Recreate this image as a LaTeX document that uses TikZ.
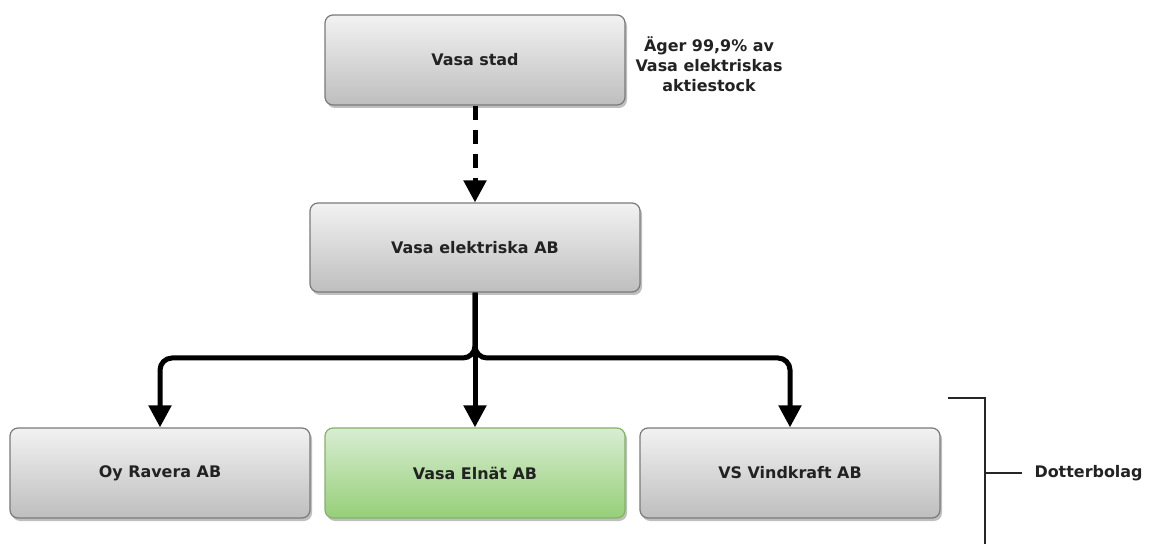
\documentclass[tikz,border=0pt]{standalone}
\usepackage{fontspec}
\setmainfont{DejaVu Sans}
\usetikzlibrary{arrows.meta,shadows,positioning}
\definecolor{txt}{HTML}{222222}
\definecolor{gtop}{HTML}{F2F2F2}
\definecolor{gbot}{HTML}{BEBEBE}
\definecolor{gline}{HTML}{7A7A7A}
\definecolor{ntop}{HTML}{D8EDD2}
\definecolor{nbot}{HTML}{96CF78}
\definecolor{nline}{HTML}{82B366}
\tikzset{
  box/.style={rounded corners=8bp, draw=gline, line width=1.2bp,
    top color=gtop, bottom color=gbot, minimum width=300bp, minimum height=90bp,
    inner sep=0pt, font=\bfseries\fontsize{16}{19}\selectfont, text=txt,
    drop shadow={shadow xshift=2bp, shadow yshift=-3bp, opacity=0.25, fill=black}},
  greenbox/.style={box, draw=nline, top color=ntop, bottom color=nbot},
  conn/.style={line width=5bp, -{Triangle[length=22bp,width=22bp]}},
  lbl/.style={font=\bfseries\fontsize{16}{20}\selectfont, text=txt, align=center},
  brk/.style={line width=2bp, black!85}
}
\begin{document}
\begin{tikzpicture}[x=1bp,y=-1bp]
\useasboundingbox (0,0) rectangle (1152,544);
\node[box] (stad) at (475,60) {Vasa stad};
\node[box, minimum width=330bp, minimum height=89bp] (vea) at (475,247.5) {Vasa elektriska AB};
\node[box] (ravera) at (160,473) {Oy Ravera AB};
\node[greenbox] (elnat) at (475,473) {Vasa Eln\"at AB};
\node[box] (vind) at (790,473) {VS Vindkraft AB};
\node[lbl] (note) at (709,64) {Äger 99,9\% av\\Vasa elektriskas\\aktiestock};

\draw[conn, dash pattern=on 14bp off 10bp] (stad.south) -- (vea.north);
\coordinate (j) at (475,358);
\draw[line width=5bp, rounded corners=12bp, -{Triangle[length=22bp,width=22bp]}]
  (vea.south) -- (j) -- (ravera.north |- j) -- (ravera.north);
\draw[line width=5bp, rounded corners=12bp, -{Triangle[length=22bp,width=22bp]}]
  (vea.south) -- (j) -- (vind.north |- j) -- (vind.north);
\draw[conn] (vea.south) -- (elnat.north);

\coordinate (b1) at (948,398);
\coordinate (b2) at (985,398);
\coordinate (b3) at (985,544);
\coordinate (b4) at (985,473);
\coordinate (b5) at (1022,473);
\draw[brk] (b1) -- (b2) -- (b3);
\draw[brk] (b4) -- (b5);
\node[lbl, anchor=west] (dotter) at (1031,473) {Dotterbolag};
\end{tikzpicture}
\end{document}
